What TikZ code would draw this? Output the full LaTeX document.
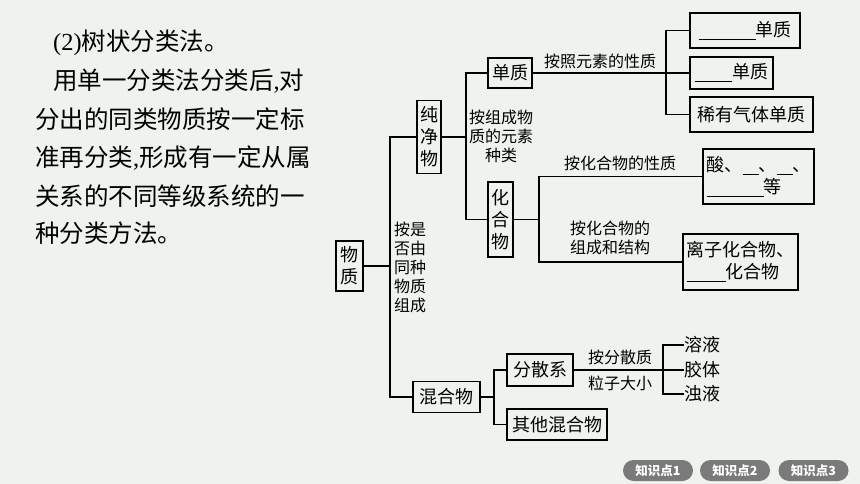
\documentclass[tikz,border=0pt]{standalone}
\usepackage{fontspec}
\setmainfont{Liberation Serif}
\newfontfamily\cjk{Noto Sans CJK SC}
\usetikzlibrary{calc}
\definecolor{pagebg}{RGB}{238,243,238}
\definecolor{btngray}{RGB}{122,122,122}
\newcommand{\blank}[1]{\rule[-3.5pt]{#1}{1.1pt}}
\tikzset{
  box/.style={draw, line width=1.1pt, inner sep=0pt, align=center, font=\cjk\fontsize{18}{22}\selectfont},
  leaf/.style={inner sep=0pt, anchor=west, font=\cjk\fontsize{18}{22}\selectfont},
  lbl/.style={inner sep=0pt, align=center, font=\cjk\fontsize{16}{19}\selectfont},
  para/.style={inner sep=0pt, anchor=base west, font=\cjk\fontsize{24.5}{30}\selectfont},
  btn/.style={fill=btngray, rounded corners=10.5pt, minimum width=70pt, minimum height=21pt, inner sep=0pt, text=white, font=\cjk\bfseries\fontsize{12.5}{14}\selectfont},
  branch/.style={line width=1.1pt}
}

\begin{document}
\begin{tikzpicture}[x=1pt, y=-1pt]
			%%%%% START %%%%%
			
			\fill[pagebg] (0, 0) rectangle (860, 484);
			
			\node[para] (p1) at (53, 50.3) {{\rmfamily(2)}树状分类法。};
			\node[para] (p2) at (53, 89.3) {用单一分类法分类后{\rmfamily,}对};
			\node[para] (p3) at (35, 128.3) {分出的同类物质按一定标};
			\node[para] (p4) at (35, 166.3) {准再分类{\rmfamily,}形成有一定从属};
			\node[para] (p5) at (35, 205.3) {关系的不同等级系统的一};
			\node[para] (p6) at (35, 242.3) {种分类方法。};
			
			\node[box, minimum width=27pt, minimum height=50pt] (wuzhi) at (349.5, 266) {物\\质};
			\node[box, minimum width=24pt, minimum height=73pt] (chunjing) at (429, 137) {纯\\净\\物};
			\node[box, minimum width=67pt, minimum height=31pt] (hunhe) at (446.5, 397) {混合物};
			\node[box, minimum width=44pt, minimum height=30pt] (danzhi) at (510, 73) {单质};
			\node[box, minimum width=25pt, minimum height=75pt] (huahe) at (500.5, 219.5) {化\\合\\物};
			
			\node[box, minimum width=110pt, minimum height=35pt] (b1) at (745, 30.5) {\blank{57pt}单质};
			\node[box, minimum width=83pt, minimum height=32pt] (b2) at (731.5, 73) {\blank{37pt}单质};
			\node[box, minimum width=123pt, minimum height=35pt] (b3) at (751.5, 114.5) {稀有气体单质};
			\node[box, align=left, minimum width=111pt, minimum height=55pt] (suan) at (758.5, 176.5) {酸、\blank{16pt}、\blank{16pt}、\\\blank{57pt}等};
			\node[box, align=left, minimum width=115pt, minimum height=56pt] (lizi) at (740.5, 262) {离子化合物、\\\blank{39pt}化合物};
			
			\node[box, minimum width=66pt, minimum height=32pt] (fensan) at (540, 370) {分散系};
			\node[box, minimum width=100pt, minimum height=31pt] (qita) at (557, 424.5) {其他混合物};
			\node[leaf] (rongye) at (684, 345) {溶液};
			\node[leaf] (jiaoti) at (684, 370) {胶体};
			\node[leaf] (zhuoye) at (684, 394) {浊液};
			
			\node[lbl, align=left, anchor=west] (byzucheng) at (394, 267) {按是\\否由\\同种\\物质\\组成};
			\node[lbl] (byyuansu) at (501, 136) {按组成物\\质的元素\\种类};
			\node[lbl] (byxingzhi) at (600, 61) {按照元素的性质};
			\node[lbl] (byhxingzhi) at (620, 163) {按化合物的性质};
			\node[lbl] (byjiegou) at (610, 238) {按化合物的\\组成和结构};
			\node[lbl] (byfensan) at (620, 357) {按分散质};
			\node[lbl] (bydaxiao) at (620, 383) {粒子大小};
			
			\coordinate (t0) at (390, 266);
			\coordinate (t1) at (466, 137);
			\coordinate (t2) at (666, 73);
			\coordinate (t3) at (539, 219);
			\coordinate (t5) at (494, 397);
			\coordinate (t6) at (663, 370);
			
			\draw[branch] (wuzhi.east) -- (t0);
			\draw[branch] (chunjing.west) -| (t0) |- (hunhe.west);
			
			\draw[branch] (chunjing.east) -- (chunjing.east -| t1);
			\draw[branch] (danzhi.west) -| (t1) |- (huahe.west);
			
			\draw[branch] (danzhi.east) -- (danzhi.east -| t2);
			\draw[branch] (b1.west) -| (t2) |- (b3.west);
			\draw[branch] (b2.west) -- (b2.west -| t2);
			
			\draw[branch] (huahe.east) -- (huahe.east -| t3);
			\draw[branch] (suan.west) -| (t3) |- (lizi.west);
			
			\draw[branch] (hunhe.east) -- (hunhe.east -| t5);
			\draw[branch] (fensan.west) -| (t5) |- (qita.west);
			
			\draw[branch] (fensan.east) -- (fensan.east -| t6);
			\draw[branch] (rongye.west) -| (t6) |- (zhuoye.west);
			\draw[branch] (jiaoti.west) -- (jiaoti.west -| t6);
			
			\node[btn] (kp1) at (658, 470.5) {知识点1};
			\node[btn] (kp2) at (735, 470.5) {知识点2};
			\node[btn] (kp3) at (813.5, 470.5) {知识点3};
			
			%%%%% END %%%%%
\end{tikzpicture}
\end{document}
